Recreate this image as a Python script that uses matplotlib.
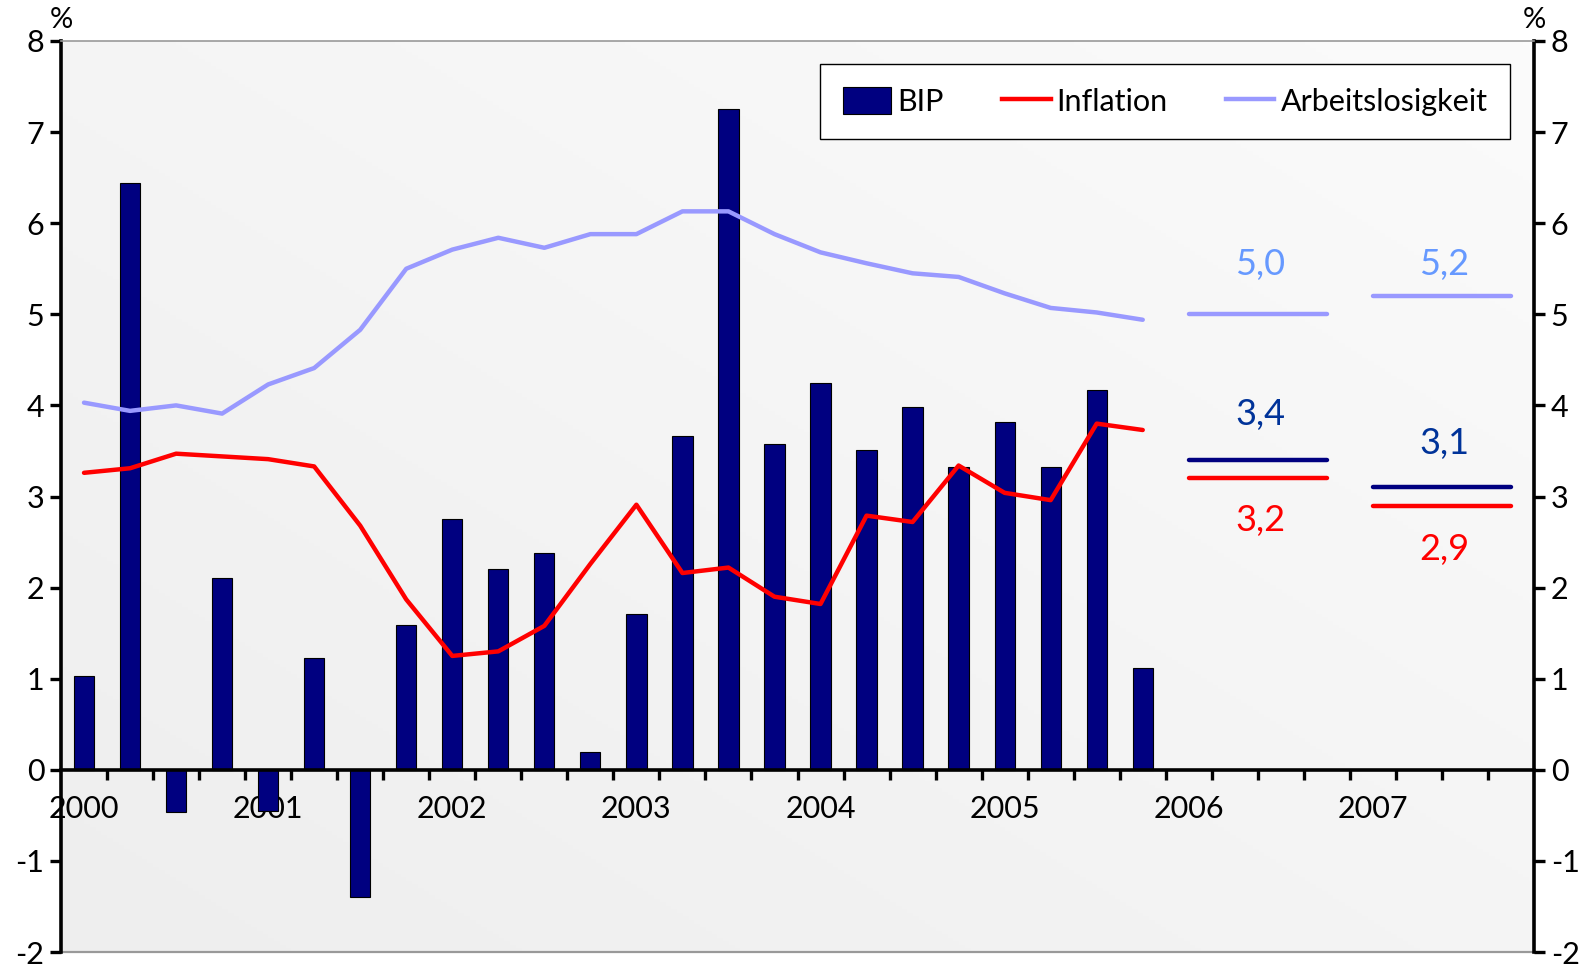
import numpy as np
import matplotlib
matplotlib.use("Agg")
import matplotlib.pyplot as plt
from matplotlib.patches import Patch
from matplotlib.lines import Line2D

plt.rcParams['font.family'] = ['Lato', 'DejaVu Sans']
plt.rcParams['axes.unicode_minus'] = False

years = ["2000", "2001", "2002", "2003", "2004", "2005", "2006", "2007"]
bip = [1.03, 6.44, -0.46, 2.10, -0.45, 1.23, -1.40, 1.59,
       2.75, 2.20, 2.38, 0.20, 1.71, 3.66, 7.25, 3.58,
       4.25, 3.51, 3.98, 3.32, 3.82, 3.32, 4.17, 1.12]
inflation = [3.26, 3.31, 3.47, 3.44, 3.41, 3.33, 2.68, 1.87,
             1.25, 1.30, 1.58, 2.26, 2.91, 2.16, 2.22, 1.90,
             1.82, 2.79, 2.72, 3.34, 3.04, 2.96, 3.80, 3.73]
arbeitslosigkeit = [4.03, 3.94, 4.00, 3.91, 4.23, 4.41, 4.83, 5.50,
                    5.71, 5.84, 5.73, 5.88, 5.88, 6.13, 6.13, 5.88,
                    5.68, 5.56, 5.45, 5.41, 5.23, 5.07, 5.02, 4.94]
forecast_years = ["2006", "2007"]
fc_bip = [3.4, 3.1]
fc_inflation = [3.2, 2.9]
fc_arbeitslosigkeit = [5.0, 5.2]

NAVY = "#000080"
RED = "#ff0000"
LAV = "#9999ff"

fig = plt.figure(figsize=(15.96, 9.66), dpi=100)
ax = fig.add_axes([61/1596, 14/966, (1534-61)/1596, (952-41)/966])

n_cat = 4 * len(years)
ax.set_xlim(-0.5, n_cat - 0.5)
ax.set_ylim(-2, 8)

# background gradient
grad = np.linspace(0, 1, 256)
gx, gy = np.meshgrid(grad, grad)
g = (gx + (1 - gy)) / 2
ax.imshow(g, extent=[-0.5, n_cat - 0.5, -2, 8], aspect='auto',
          cmap=matplotlib.colors.LinearSegmentedColormap.from_list('bg', ['#eeeeee', '#fbfbfb']),
          origin='upper', zorder=0)
ax.set_facecolor('white')

x = np.arange(len(bip))
ax.bar(x, bip, width=0.44, color=NAVY, edgecolor='black', linewidth=0.8, zorder=2)
ax.plot(x, inflation, color=RED, lw=3.2, zorder=3, solid_capstyle='round')
ax.plot(x, arbeitslosigkeit, color=LAV, lw=3.2, zorder=3, solid_capstyle='round')

# forecasts
lab_off = {'arb': [0.55, 0.35], 'bip': [0.5, 0.48], 'inf': [-0.46, -0.48]}
for i, yr in enumerate(forecast_years):
    start = years.index(yr) * 4
    x0, x1 = start, start + 3
    xm = (x0 + x1) / 2 + 0.05
    ax.plot([x0, x1], [fc_arbeitslosigkeit[i]] * 2, color=LAV, lw=3.2, solid_capstyle='round', zorder=3)
    ax.plot([x0, x1], [fc_bip[i]] * 2, color=NAVY, lw=3.2, solid_capstyle='round', zorder=3)
    ax.plot([x0, x1], [fc_inflation[i]] * 2, color=RED, lw=3.2, solid_capstyle='round', zorder=3)
    ax.text(xm, fc_arbeitslosigkeit[i] + lab_off['arb'][i], f"{fc_arbeitslosigkeit[i]:.1f}".replace('.', ','),
            color="#6699ff", fontsize=26, ha='center', va='center')
    ax.text(xm, fc_bip[i] + lab_off['bip'][i], f"{fc_bip[i]:.1f}".replace('.', ','),
            color="#003399", fontsize=26, ha='center', va='center')
    ax.text(xm, fc_inflation[i] + lab_off['inf'][i], f"{fc_inflation[i]:.1f}".replace('.', ','),
            color=RED, fontsize=26, ha='center', va='center')

# spines
ax.spines['bottom'].set_position(('data', 0))
ax.spines['bottom'].set_linewidth(2.6)
ax.spines['bottom'].set_zorder(4)
for s in ['left', 'right']:
    ax.spines[s].set_linewidth(2.6)
    ax.spines[s].set_color('black')
ax.spines['top'].set_color('#999999')
ax.spines['top'].set_linewidth(1.2)
ax.axhline(-2, color='#999999', lw=1.6, clip_on=False, zorder=1)

# y ticks
ax.set_yticks(range(-2, 9))
ax.tick_params(axis='y', which='major', direction='out', length=8, width=2.4,
               labelsize=22, left=True, right=True, labelleft=True, labelright=True, pad=4)

# x ticks: year labels at Q1, tick marks at category boundaries
ax.set_xticks([4 * i for i in range(len(years))])
ax.set_xticklabels(years)
ax.set_xticks(np.arange(0.5, n_cat - 0.5, 1), minor=True)
ax.tick_params(axis='x', which='major', length=0, labelsize=22, pad=18)
ax.tick_params(axis='x', which='minor', direction='out', length=7, width=2.4)
for lbl in ax.get_xticklabels():
    lbl.set_zorder(5)

fig.text(61/1596, 1 - 20/966, "%", fontsize=21, ha='center', va='center')
fig.text(1534/1596, 1 - 20/966, "%", fontsize=21, ha='center', va='center')

handles = [Patch(facecolor=NAVY, edgecolor='black', linewidth=0.8),
           Line2D([], [], color=RED, lw=3.2),
           Line2D([], [], color=LAV, lw=3.2)]
leg = ax.legend(handles, ["BIP", "Inflation", "Arbeitslosigkeit"], ncol=3,
                loc='center', bbox_to_anchor=(0.515, 0.891, 0.469, 0.085), mode='expand',
                fontsize=22, frameon=True, fancybox=False, edgecolor='black',
                handlelength=1.6, handleheight=1.0, handletextpad=0.2, columnspacing=1.5,
                borderaxespad=0, borderpad=0.75)
leg.get_frame().set_linewidth(1.0)
leg.get_frame().set_facecolor('white')
leg.get_frame().set_alpha(1)
leg.set_zorder(6)

fig.savefig("out.png", dpi=100)
